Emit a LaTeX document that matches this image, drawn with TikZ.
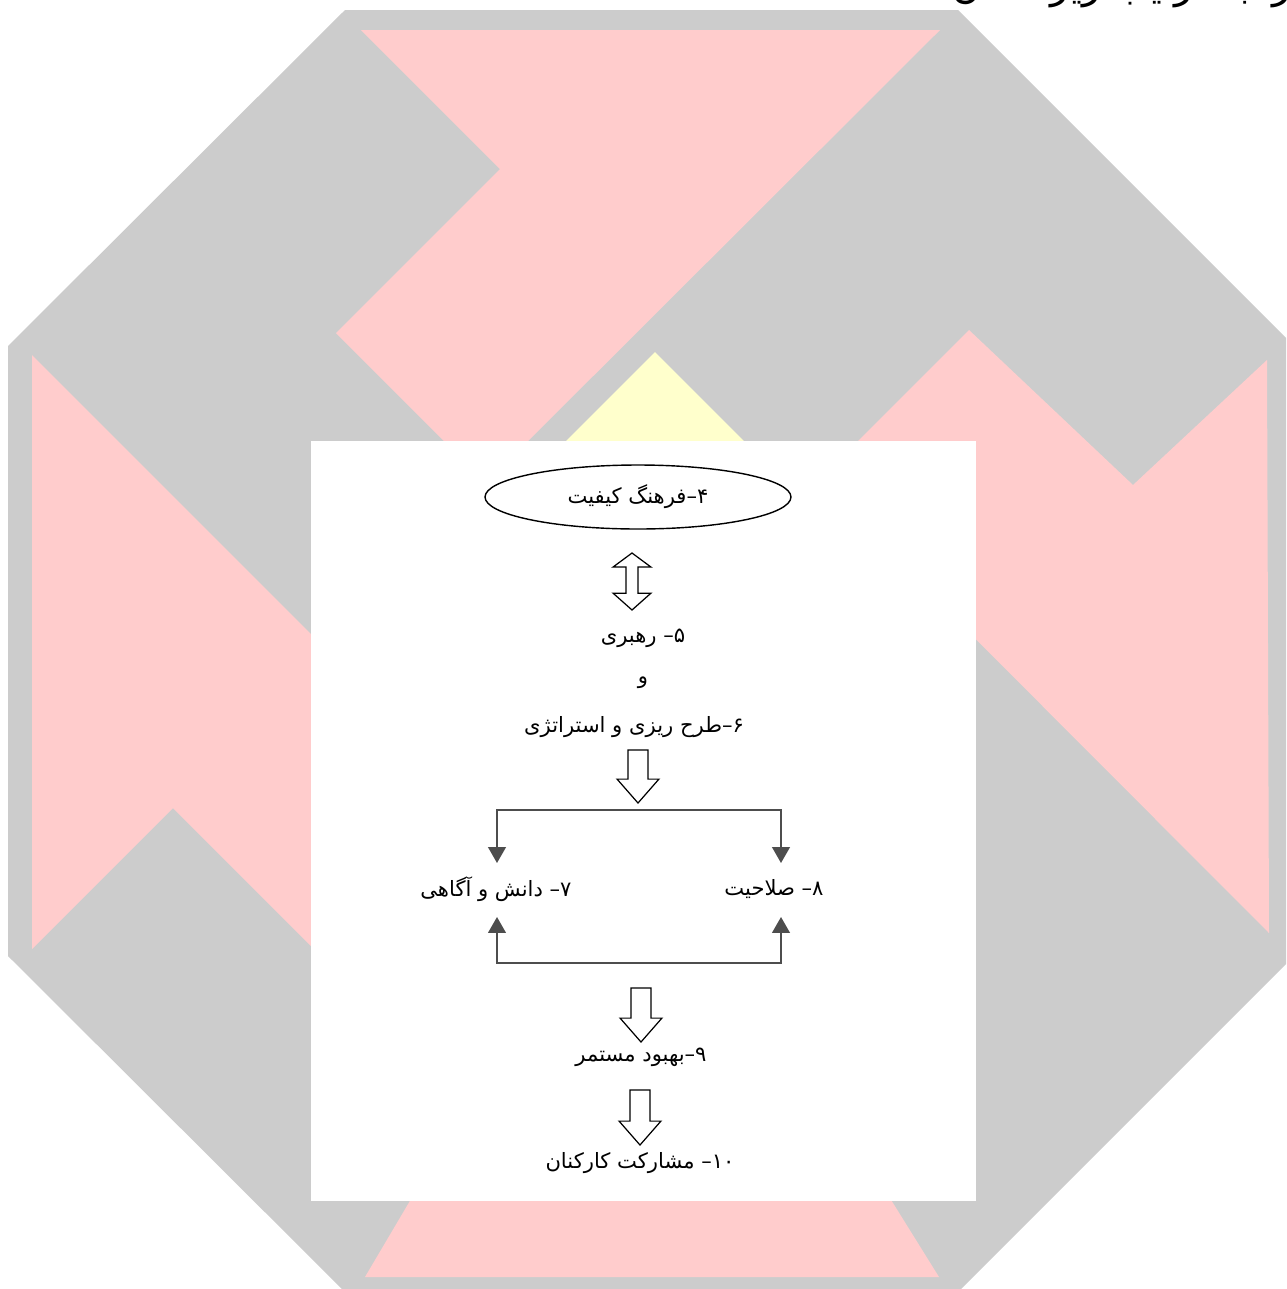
\documentclass[tikz,border=0pt]{standalone}
\usepackage{fontspec}
\newfontfamily\fa[Script=Arabic]{DejaVu Sans}
\TeXXeTstate=1
\usetikzlibrary{arrows.meta,calc,shapes.geometric}
\definecolor{logogray}{HTML}{CCCCCC}
\definecolor{logopink}{HTML}{FFCCCC}
\definecolor{logoyellow}{HTML}{FFFFCC}
\definecolor{inkgray}{HTML}{4D4D4D}

% hollow block arrow pointing down, from #1 (top) to #2 (tip)
\newcommand\blockdown[2]{\draw[blockarrow] let \p1=(#1), \p2=(#2) in
  (\x1-5.67pt,\y1) -- (\x1+5.67pt,\y1) -- (\x1+5.67pt,\y2+13.6pt)
  -- (\x1+11.9pt,\y2+13.6pt) -- (\x1,\y2) -- (\x1-11.9pt,\y2+13.6pt)
  -- (\x1-5.67pt,\y2+13.6pt) -- cycle;}
% hollow block arrow with heads at both ends, #1 upper tip, #2 lower tip
\newcommand\blockboth[2]{\draw[blockarrow] let \p1=(#1), \p2=(#2) in
  (\x1,\y1) -- (\x1+10.8pt,\y1-8pt) -- (\x1+3.4pt,\y1-8pt)
  -- (\x1+3.4pt,\y2+9.6pt) -- (\x1+10.8pt,\y2+9.6pt) -- (\x1,\y2)
  -- (\x1-10.8pt,\y2+9.6pt) -- (\x1-3.4pt,\y2+9.6pt)
  -- (\x1-3.4pt,\y1-8pt) -- (\x1-10.8pt,\y1-8pt) -- cycle;}

\begin{document}
\begin{tikzpicture}[x=0.02cm,y=-0.02cm,
  fatext/.style={font=\fa\fontsize{12}{14}\selectfont, inner sep=1pt},
  conn/.style={draw=inkgray, line width=1.1pt},
  blockarrow/.style={draw=black, line width=0.7pt, fill=white, line join=miter},
]
\clip (0,0) rectangle (1286,1289);
\fill[white] (0,0) rectangle (1286,1289);

% ---- octagonal emblem behind the chart ----
\fill[logogray] (345,10) -- (958,10) -- (1294,346) -- (1294,956)
  -- (958,1292) -- (345,1292) -- (8,956) -- (8,346) -- cycle;
\fill[logopink] (361,30) -- (940,30) -- (486,483) -- (336,333) -- (500,169) -- cycle;
\fill[logopink] (969,330) -- (1133,485) -- (1267,360) -- (1269,933) -- (818,481) -- cycle;
\fill[logopink] (32,355) -- (500,823) -- (500,1135) -- (173,808) -- (32,949) -- cycle;
\fill[logopink] (365,1277) -- (939,1277) -- (860,1150) -- (440,1150) -- cycle;
\fill[logoyellow] (655,352) -- (760,457) -- (550,457) -- cycle;

% ---- page ----
\fill[white] (311,441) rectangle (976,1201);

% heading line, cut by the page edge
\node[anchor=base east, font=\fa\fontsize{22}{26}\selectfont, inner sep=0] (heading)
  at (1292,-2) {\beginR را به ترتیب زیر نشان داد:\endR};

% ---- flow chart ----
\node[ellipse, draw=black, line width=0.8pt, minimum width=6.12cm, minimum height=1.28cm, fatext]
  (n4) at (638,497) {\beginR ۴–فرهنگ کیفیت\endR};
\node[fatext] (n5) at (643,638) {\beginR ۵– رهبری\endR};
\node[fatext] (and) at (643,683) {\beginR و\endR};
\node[fatext] (n6) at (634,727) {\beginR ۶–طرح ریزی و استراتژی\endR};
\node[fatext] (n7) at (496,889) {\beginR ۷– دانش و آگاهی\endR};
\node[fatext] (n8) at (774,889) {\beginR ۸– صلاحیت\endR};
\node[fatext] (n9) at (641,1057) {\beginR ۹–بهبود مستمر\endR};
\node[fatext] (n10) at (640,1163) {\beginR ۱۰– مشارکت کارکنان\endR};

% block arrows
\coordinate (d1a) at (632,553);  \coordinate (d1b) at (632,610);
\coordinate (a1a) at (638,750);  \coordinate (a1b) at (638,803);
\coordinate (a2a) at (641,988);  \coordinate (a2b) at (641,1042);
\coordinate (a3a) at (640,1090); \coordinate (a3b) at (640,1145);
\blockboth{d1a}{d1b}
\blockdown{a1a}{a1b}
\blockdown{a2a}{a2b}
\blockdown{a3a}{a3b}

% split to items 7 and 8, and their feedback
\coordinate (splitL) at (497,810); \coordinate (splitR) at (781,810);
\coordinate (inL) at (497,863);    \coordinate (inR) at (781,863);
\coordinate (joinL) at (497,963);  \coordinate (joinR) at (781,963);
\coordinate (upL) at (497,917);    \coordinate (upR) at (781,917);
\draw[conn, {Triangle[length=9pt,width=10pt]}-{Triangle[length=9pt,width=10pt]}]
  (inL) -- (splitL) -- (splitR) -- (inR);
\draw[conn, {Triangle[length=9pt,width=10pt]}-{Triangle[length=9pt,width=10pt]}]
  (upL) -- (joinL) -- (joinR) -- (upR);
\end{tikzpicture}
\end{document}
